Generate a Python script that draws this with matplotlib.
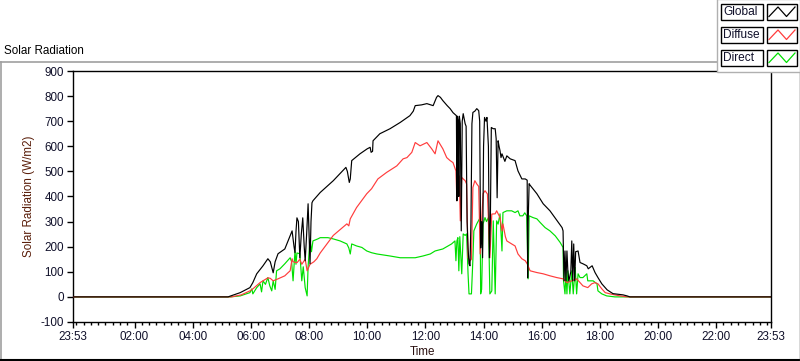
import matplotlib
matplotlib.use('Agg')
import matplotlib.pyplot as plt
from matplotlib.patches import Rectangle
from matplotlib.lines import Line2D
import numpy as np

plt.rcParams['font.family'] = ['Liberation Sans', 'DejaVu Sans']

# ---------------- data (time in minutes after midnight, value in W/m2) ----------------
global_t = [-7, 313, 317, 338, 358, 364, 372, 385, 395, 400, 406, 410, 416, 430, 445, 449, 451, 453, 455, 458,
            461, 464, 467, 470, 472, 475, 478, 480, 482, 484, 486, 488, 503, 530, 556, 559, 563, 565, 568, 585,
            600, 606, 608, 611, 612, 626, 647, 668, 688, 695, 699, 712, 723, 736, 743, 746, 751, 756, 765, 771,
            777, 784, 785, 786, 788, 789, 790, 792, 794, 796, 798, 800, 802, 804, 806, 808, 810, 812, 814, 816,
            818, 822, 826, 830, 832, 834, 836, 838, 840, 842, 845, 847, 850, 852, 854, 856, 860, 864, 866, 868,
            870, 872, 874, 876, 878, 880, 884, 888, 892, 895, 905, 911, 919, 926, 930, 931, 932, 934, 936, 950,
            963, 977, 992, 1002, 1004, 1006, 1008, 1010, 1012, 1014, 1016, 1020, 1022, 1024, 1026, 1028, 1030,
            1035, 1039, 1045, 1053, 1056, 1064, 1070, 1076, 1084, 1095, 1107, 1128, 1136, 1142, 1433]
global_v = [0, 0, 3, 17, 37, 57, 92, 124, 152, 140, 96, 140, 172, 191, 263, 200, 176, 260, 315, 300,
            156, 250, 315, 200, 144, 250, 371, 250, 132, 300, 375, 383, 416, 463, 516, 500, 456, 470, 543, 570,
            590, 596, 576, 580, 622, 650, 670, 695, 722, 740, 762, 765, 770, 762, 795, 802, 795, 782, 762, 750,
            734, 722, 383, 720, 700, 400, 720, 690, 263, 700, 730, 710, 690, 680, 300, 195, 132, 124, 300, 690,
            735, 740, 750, 742, 700, 195, 300, 156, 600, 715, 700, 715, 600, 156, 300, 675, 670, 670, 630, 395,
            622, 600, 582, 555, 570, 560, 540, 562, 555, 550, 543, 502, 470, 470, 465, 76, 300, 451, 445, 411,
            371, 343, 303, 276, 263, 64, 183, 64, 183, 100, 64, 100, 223, 64, 211, 64, 180,
            183, 137, 132, 124, 112, 124, 97, 77, 52, 28, 13, 8, 4, 0, 0]

diffuse_t = [-7, 320, 340, 358, 364, 379, 395, 400, 406, 416, 430, 437, 441, 445, 447, 455, 461, 465, 472, 476,
             482, 490, 496, 503, 530, 558, 562, 565, 578, 599, 609, 622, 640, 661, 674, 682, 692, 699, 709, 723,
             733, 740, 746, 756, 764, 771, 777, 783, 785, 787, 790, 792, 795, 798, 802, 805, 808, 812, 815, 818,
             822, 826, 830, 833, 836, 839, 843, 848, 853, 857, 864, 867, 874, 878, 880, 885, 888, 898, 905, 911,
             919, 926, 930, 936, 950, 963, 977, 991, 1004, 1012, 1022, 1032, 1039, 1045, 1055, 1063, 1070, 1076,
             1084, 1091, 1101, 1111, 1122, 1132, 1138, 1433]
diffuse_v = [0, 0, 8, 24, 32, 57, 76, 74, 64, 72, 84, 97, 104, 152, 140, 136, 150, 130, 150, 104,
             130, 140, 152, 175, 245, 291, 283, 311, 356, 411, 431, 470, 496, 522, 550, 555, 576, 615, 602, 615,
             590, 570, 622, 590, 555, 543, 535, 502, 383, 490, 480, 303, 476, 470, 463, 450, 156, 144, 150, 436,
             463, 450, 440, 171, 300, 411, 423, 410, 156, 330, 331, 343, 316, 263, 291, 240, 223, 211, 203, 171,
             152, 144, 132, 104, 97, 92, 84, 77, 72, 57, 64, 72, 57, 44, 37, 52, 57, 52,
             32, 17, 12, 8, 4, 1, 0, 0]

direct_t = [-7, 317, 338, 358, 362, 364, 372, 379, 382, 385, 390, 395, 399, 403, 406, 410, 413, 420, 430, 441,
            444, 447, 451, 453, 455, 461, 465, 468, 472, 474, 476, 478, 482, 485, 488, 498, 503, 519, 530, 544,
            558, 562, 565, 568, 578, 589, 599, 609, 620, 647, 668, 688, 699, 715, 730, 740, 756, 767, 774, 781,
            783, 785, 787, 789, 791, 795, 798, 802, 805, 808, 810, 815, 818, 820, 826, 833, 834, 836, 839, 843,
            846, 850, 853, 857, 860, 864, 867, 870, 874, 878, 880, 888, 898, 905, 911, 915, 921, 925, 929, 932,
            934, 942, 950, 957, 967, 977, 988, 998, 1004, 1005, 1008, 1010, 1012, 1014, 1018, 1022, 1025, 1029,
            1032, 1035, 1039, 1045, 1053, 1055, 1066, 1074, 1076, 1084, 1094, 1107, 1111, 1433]
direct_v = [0, 0, 4, 17, 32, 12, 37, 52, 20, 64, 50, 77, 44, 24, 64, 30, 104, 112, 132, 156,
            140, 64, 183, 130, 175, 172, 64, 120, 37, 20, 4, 120, 231, 180, 223, 231, 236, 236, 231, 223,
            211, 195, 171, 211, 203, 197, 183, 176, 171, 163, 156, 156, 156, 163, 171, 183, 191, 203, 211, 223,
            144, 223, 236, 104, 240, 92, 251, 245, 251, 92, 12, 12, 150, 263, 291, 316, 12, 30, 291, 316,
            300, 316, 12, 24, 303, 12, 303, 290, 331, 183, 336, 343, 343, 336, 343, 323, 323, 335, 323, 72,
            323, 316, 311, 296, 276, 263, 243, 217, 197, 64, 12, 100, 12, 104, 12, 104, 12, 117,
            12, 92, 77, 77, 92, 64, 64, 52, 24, 12, 4, 1, 0, 0]

series_names = ['Global', 'Diffuse', 'Direct']
series_colors = ['#000000', '#ff3c3c', '#00e000']

x_ticks = [-7, 120, 240, 360, 480, 600, 720, 840, 960, 1080, 1200, 1320, 1433]
x_tick_labels = ['23:53', '02:00', '04:00', '06:00', '08:00', '10:00', '12:00', '14:00',
                 '16:00', '18:00', '20:00', '22:00', '23:53']
y_ticks = [-100, 0, 100, 200, 300, 400, 500, 600, 700, 800, 900]

# ---------------- figure ----------------
W, H = 800, 361
fig = plt.figure(figsize=(W / 100, H / 100), dpi=100)
fig.patch.set_facecolor('white')


def fx(x):
    return x / W


def fy(y):
    return 1 - y / H


# outer panel border
fig.add_artist(Line2D([fx(0), fx(800)], [fy(62), fy(62)], color='#a0a0a0', lw=1.2, transform=fig.transFigure))
fig.add_artist(Line2D([fx(1), fx(1)], [fy(62), fy(359)], color='#a0a0a0', lw=1.2, transform=fig.transFigure))
fig.add_artist(Line2D([fx(0), fx(800)], [fy(359.5), fy(359.5)], color='#000000', lw=1.5, transform=fig.transFigure))
fig.add_artist(Line2D([fx(799.5), fx(799.5)], [fy(62), fy(360)], color='#404040', lw=1.0, transform=fig.transFigure))

fig.text(fx(4), fy(51), 'Solar Radiation', fontsize=8.4, ha='left', va='center', color='#000000')

ax = fig.add_axes([fx(73), fy(322), (771 - 73) / W, (322 - 71) / H])
ax.set_facecolor('white')

# LabVIEW-like stacking: Global drawn on top
ax.plot(direct_t, direct_v, color=series_colors[2], lw=0.85, zorder=2)
ax.plot(diffuse_t, diffuse_v, color=series_colors[1], lw=0.85, zorder=3)
ax.plot(global_t, global_v, color=series_colors[0], lw=0.85, zorder=4)

ax.set_xlim(-7, 1433)
ax.set_ylim(-100, 900)
ax.set_xticks(x_ticks)
ax.set_xticklabels(x_tick_labels)
ax.set_xticks(np.arange(0, 1433, 15), minor=True)
ax.set_yticks(y_ticks)
ax.set_yticklabels([str(v) for v in y_ticks])

for s in ax.spines.values():
    s.set_color('black')
    s.set_linewidth(1.0)

ax.tick_params(axis='both', which='major', direction='out', length=4.5, width=1, labelsize=8.4,
               colors='black', labelcolor='#10102a', pad=2)
ax.tick_params(axis='x', which='minor', direction='out', length=2.5, width=1, colors='black')

ax.set_ylabel('Solar Radiation (W/m2)', fontsize=8.4, color='#5a1e0a', labelpad=4)
ax.set_xlabel('Time', fontsize=8.4, color='#2a1010', labelpad=2)

# ---------------- legend (manual, LabVIEW style) ----------------
fig.patches.append(Rectangle((fx(717), fy(72)), (800 - 717) / W, 73 / H, transform=fig.transFigure,
                             facecolor='white', edgecolor='#b0b0b0', lw=1.0, zorder=5))
row_tops = [4, 27, 50]
for name, col, top in zip(series_names, series_colors, row_tops):
    h = 15.5
    fig.patches.append(Rectangle((fx(720.5), fy(top + h)), 42 / W, h / H, transform=fig.transFigure,
                                 facecolor='white', edgecolor='black', lw=1.0, zorder=6))
    fig.text(fx(723), fy(top + h / 2 + 0.5), name, fontsize=8.6, ha='left', va='center', color='#10102a', zorder=7)
    fig.patches.append(Rectangle((fx(766.5), fy(top + h)), 30 / W, h / H, transform=fig.transFigure,
                                 facecolor='white', edgecolor='black', lw=1.0, zorder=6))
    zx = [769, 778, 786.5, 795]
    zy = [top + h - 3, top + 3, top + h - 3, top + 3]
    fig.add_artist(Line2D([fx(v) for v in zx], [fy(v) for v in zy], color=col, lw=0.9,
                          transform=fig.transFigure, zorder=7))

fig.savefig('out.png', dpi=100)
